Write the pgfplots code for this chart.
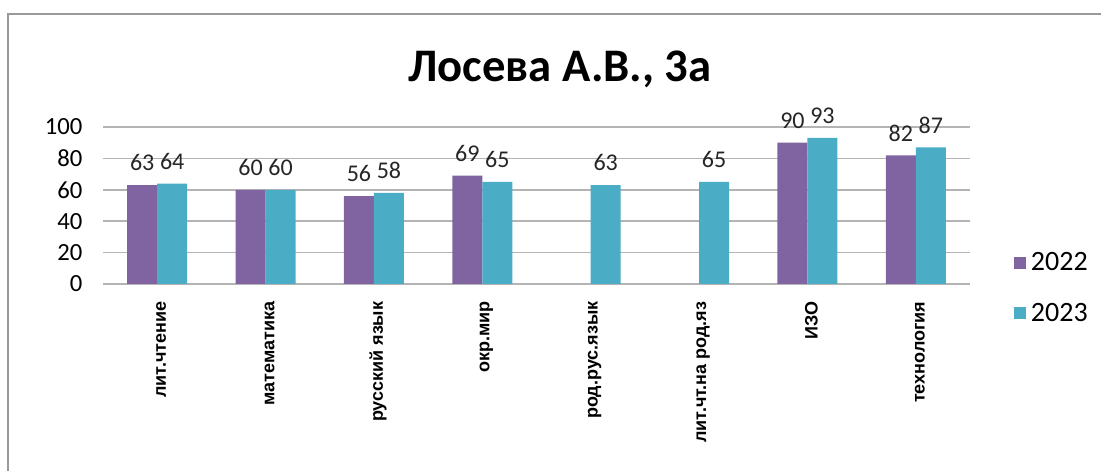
\documentclass[border=0pt]{standalone}
\usepackage{fontspec}
\setmainfont{Carlito}
\newfontfamily\lab{Liberation Sans}
\usepackage{pgfplots}
\pgfplotsset{compat=1.18}
\definecolor{c22}{HTML}{8064A2}
\definecolor{c23}{HTML}{4BACC6}
\definecolor{gridc}{HTML}{B4B4B4}
\begin{document}
\begin{tikzpicture}[x=0.75pt,y=0.75pt]
\useasboundingbox (0,0) rectangle (1101,471);
\draw[gray!80, line width=1.5pt] (8,-5) -- (8,457) -- (1110,457);
\node[font=\fontsize{35}{40}\selectfont\bfseries] at (560,402) {Лосева А.В., 3а};
\begin{axis}[
  at={(77.25pt,140.25pt)}, anchor=south west,
  width=650.25pt, height=117.75pt, scale only axis,
  ybar=0pt, bar width=22.5pt,
  xmin=-0.5, xmax=7.5, ymin=0, ymax=100,
  ytick={0,20,40,60,80,100},
  xtick={0,...,7},
  xticklabels={лит.чтение,математика,русский язык,окр.мир,род.рус.язык,лит.чт.на род.яз,ИЗО,технология},
  x tick label style={rotate=90, anchor=east, font=\lab\bfseries\fontsize{13.5}{14}\selectfont, xshift=-13pt, yshift=-3pt, inner sep=0pt},
  y tick label style={font=\fontsize{18.5}{20}\selectfont, xshift=-12pt},
  /pgf/number format/assume math mode=true,
  axis line style={draw=none},
  major tick length=0pt,
  ymajorgrids, grid style={gridc, line width=1.3pt},
  nodes near coords,
  every node near coord/.append style={font=\fontsize{18}{19}\selectfont, text=black!85, yshift=7pt},
  legend style={at={(1.05,-0.025)}, anchor=west, draw=none, fill=none,
    font=\fontsize{21}{22}\selectfont, row sep=19pt, inner sep=0pt,
    nodes={inner xsep=4pt}},
  legend cell align=left,
  legend image code/.code={\fill[#1] (0pt,-4.5pt) rectangle (9pt,4.5pt);},
]
\addplot[fill=c22, draw=none] coordinates {(0,63) (1,60) (2,56) (3,69) (6,90) (7,82)};
\addplot[fill=c23, draw=none] coordinates {(0,64) (1,60) (2,58) (3,65) (4,63) (5,65) (6,93) (7,87)};
\legend{2022,2023}
\end{axis}
\end{tikzpicture}
\end{document}
